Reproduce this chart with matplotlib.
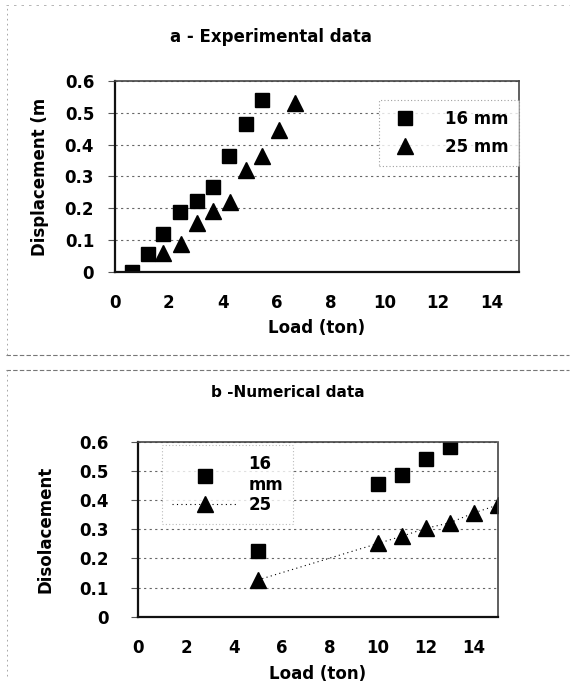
import matplotlib
matplotlib.use('Agg')
import matplotlib.pyplot as plt
from matplotlib.lines import Line2D

plt.rcParams['font.family'] = ['DejaVu Sans']
plt.rcParams['font.weight'] = 'bold'
plt.rcParams['axes.labelweight'] = 'bold'

# a - experimental data
exp_load_16 = [0.62, 1.24, 1.80, 2.42, 3.04, 3.63, 4.25, 4.86, 5.45]
exp_disp_16 = [0.0, 0.055, 0.12, 0.187, 0.224, 0.268, 0.365, 0.466, 0.539]
exp_load_25 = [1.80, 2.44, 3.04, 3.65, 4.27, 4.87, 5.45, 6.10, 6.69]
exp_disp_25 = [0.059, 0.088, 0.153, 0.19, 0.221, 0.32, 0.365, 0.447, 0.532]

# b - numerical data
num_load_16 = [5, 10, 11, 12, 13]
num_disp_16 = [0.226, 0.454, 0.485, 0.541, 0.583]
num_load_25 = [5, 10, 11, 12, 13, 14, 15]
num_disp_25 = [0.126, 0.251, 0.276, 0.303, 0.322, 0.356, 0.383]

x_ticks = [0, 2, 4, 6, 8, 10, 12, 14]
y_ticks = [0, 0.1, 0.2, 0.3, 0.4, 0.5, 0.6]
y_labels = ['0', '0.1', '0.2', '0.3', '0.4', '0.5', '0.6']


def style_axes(ax, ypad):
    ax.set_xlim(0, 15)
    ax.set_ylim(0, 0.6)
    ax.set_xticks(x_ticks)
    ax.set_xticklabels([str(t) for t in x_ticks], fontsize=12)
    ax.set_yticks(y_ticks)
    ax.set_yticklabels(y_labels, fontsize=12)
    ax.tick_params(axis='x', length=0, pad=16)
    ax.tick_params(axis='y', length=5, width=0.8, color='#555555', pad=ypad)
    ax.yaxis.grid(True, color='#666666', linestyle=(0, (2, 3)), linewidth=0.8)
    ax.set_axisbelow(True)
    for s in ['left', 'bottom']:
        ax.spines[s].set_color('#111111')
        ax.spines[s].set_linewidth(1.6)
    for s in ['top', 'right']:
        ax.spines[s].set_color('#444444')
        ax.spines[s].set_linewidth(1.2)
        ax.spines[s].set_linestyle((0, (1, 1)))


fig = plt.figure(figsize=(5.75, 6.83), dpi=100)

# panel frames
fig.add_artist(Line2D([0.01, 0.99], [0.48, 0.48], color='#777777', lw=0.8, ls=(0, (4, 2))))
fig.add_artist(Line2D([0.01, 0.99], [0.458, 0.458], color='#777777', lw=0.8, ls=(0, (4, 2))))
fig.add_artist(Line2D([0.01, 0.99], [0.993, 0.993], color='#aaaaaa', lw=0.6, ls=(0, (3, 6))))
fig.add_artist(Line2D([0.012, 0.012], [0.48, 0.99], color='#999999', lw=0.6, ls=(0, (2, 4))))
fig.add_artist(Line2D([0.012, 0.012], [0.01, 0.458], color='#999999', lw=0.6, ls=(0, (2, 4))))

ax1 = fig.add_axes([0.2, 0.6018, 0.7026, 0.2796])
style_axes(ax1, 10)
ax1.plot(exp_load_16, exp_disp_16, 's', color='black', markersize=10, label='16 mm')
ax1.plot(exp_load_25, exp_disp_25, '^', color='black', markersize=11, label='25 mm')
ax1.set_xlabel('Load (ton)', fontsize=12, labelpad=5)
ax1.set_ylabel('Displacement (m', fontsize=12, labelpad=11)
fig.text(0.472, 0.946, 'a - Experimental data', ha='center', va='center', fontsize=12)
leg1 = ax1.legend(loc='upper right', bbox_to_anchor=(1.0, 0.9), borderaxespad=0, fontsize=12,
                  frameon=True, fancybox=False, borderpad=0.6, labelspacing=0.6,
                  handletextpad=1.4, handlelength=2.0)
leg1.get_frame().set_edgecolor('#888888')
leg1.get_frame().set_linestyle((0, (1, 2)))
leg1.get_frame().set_linewidth(0.8)

ax2 = fig.add_axes([0.24, 0.0971, 0.626, 0.2562])
style_axes(ax2, 16)
ax2.plot(num_load_16, num_disp_16, 's', color='black', markersize=10, label='16\nmm')
ax2.plot(num_load_25, num_disp_25, '^', color='black', markersize=11,
         linestyle=(0, (1, 3)), linewidth=0.8, label='25')
ax2.set_xlabel('Load (ton)', fontsize=12, labelpad=6)
ax2.set_ylabel('Disolacement', fontsize=12, labelpad=18)
fig.text(0.50, 0.426, 'b -Numerical data', ha='center', va='center', fontsize=11)
leg2 = ax2.legend(loc='upper left', bbox_to_anchor=(0.066, 0.98), borderaxespad=0, fontsize=12,
                  frameon=True, fancybox=False, borderpad=0.6, labelspacing=0.1,
                  handletextpad=0.6, handlelength=4.0)
leg2.get_frame().set_edgecolor('#aaaaaa')
leg2.get_frame().set_linestyle((0, (1, 2)))
leg2.get_frame().set_linewidth(0.8)

fig.savefig('out.png', dpi=100)
